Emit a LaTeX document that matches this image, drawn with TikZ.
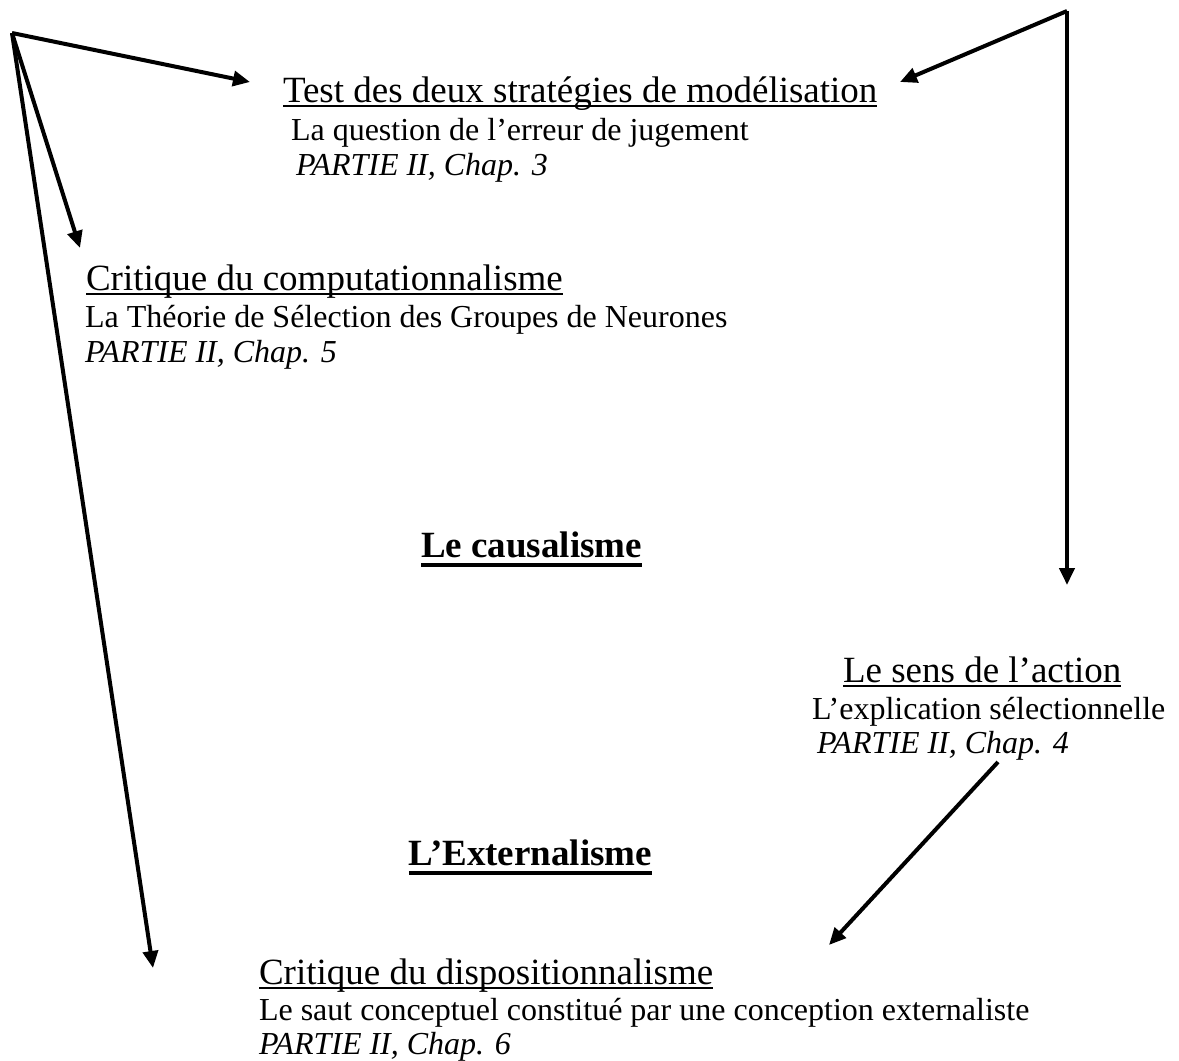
\documentclass[tikz,border=0pt]{standalone}
\usepackage{fontspec}
\setmainfont{Liberation Serif}
\usetikzlibrary{arrows.meta}
\newcommand\ulx[1]{\setbox0\hbox{#1}\rlap{\rule[-5pt]{\wd0}{2pt}}\box0}
\newcommand\ulb[1]{\setbox0\hbox{#1}\rlap{\rule[-10pt]{\wd0}{4pt}}\box0}
\tikzset{
  x=1pt, y=-1pt,
  txt/.style={anchor=base west, inner sep=0pt, outer sep=0pt, font=\fontsize{32}{37}\selectfont},
  head/.style={anchor=base west, inner sep=0pt, outer sep=0pt, font=\fontsize{37}{42}\selectfont},
  bighead/.style={anchor=base east, inner sep=0pt, outer sep=0pt, font=\fontsize{37}{42}\selectfont\bfseries},
  arr/.style={line width=4pt, -{Triangle[length=17pt,width=15pt]}},
}
\begin{document}
\begin{tikzpicture}
\useasboundingbox (0,0) rectangle (1179,1061);
% texts
\node[head] (t1) at (283,102) {\ulx{Test des deux stratégies de modélisation}};
\node[txt]  (t1b) at (291,140) {La question de l’erreur de jugement};
\node[txt]  (t1c) at (296,175) {\itshape PARTIE II, Chap. 3};
\node[head] (t2) at (86,290) {\ulx{Critique du computationnalisme}};
\node[txt]  (t2b) at (85,327) {La Théorie de Sélection des Groupes de Neurones};
\node[txt]  (t2c) at (85,362) {\itshape PARTIE II, Chap. 5};
\node[bighead] (caus) at (642,557) {\ulb{Le causalisme}};
\node[head] (t3) at (843,682) {\ulx{Le sens de l’action}};
\node[txt]  (t3b) at (812,719) {L’explication sélectionnelle};
\node[txt]  (t3c) at (817,753) {\itshape PARTIE II, Chap. 4};
\node[bighead] (ext) at (652,865) {\ulb{L’Externalisme}};
\node[head] (t4) at (259,984) {\ulx{Critique du dispositionnalisme}};
\node[txt]  (t4b) at (259,1020) {Le saut conceptuel constitué par une conception externaliste};
\node[txt]  (t4c) at (259,1054) {\itshape PARTIE II, Chap. 6};
% connector ends
\coordinate (A) at (12,33);
\coordinate (B) at (1067,11);
\coordinate (C) at (998,762);
\coordinate (pA1) at (250,82);
\coordinate (pA2) at (80,248);
\coordinate (pA3) at (153,968);
\coordinate (pB1) at (900,82);
\coordinate (pB2) at (1067,585);
\coordinate (pC) at (829,945);
% connectors
\draw[arr] (A) -- (pA1);
\draw[arr] (A) -- (pA2);
\draw[arr] (A) -- (pA3);
\draw[arr] (B) -- (pB1);
\draw[arr] (B) -- (pB2);
\draw[arr] (C) -- (pC);
\end{tikzpicture}
\end{document}
